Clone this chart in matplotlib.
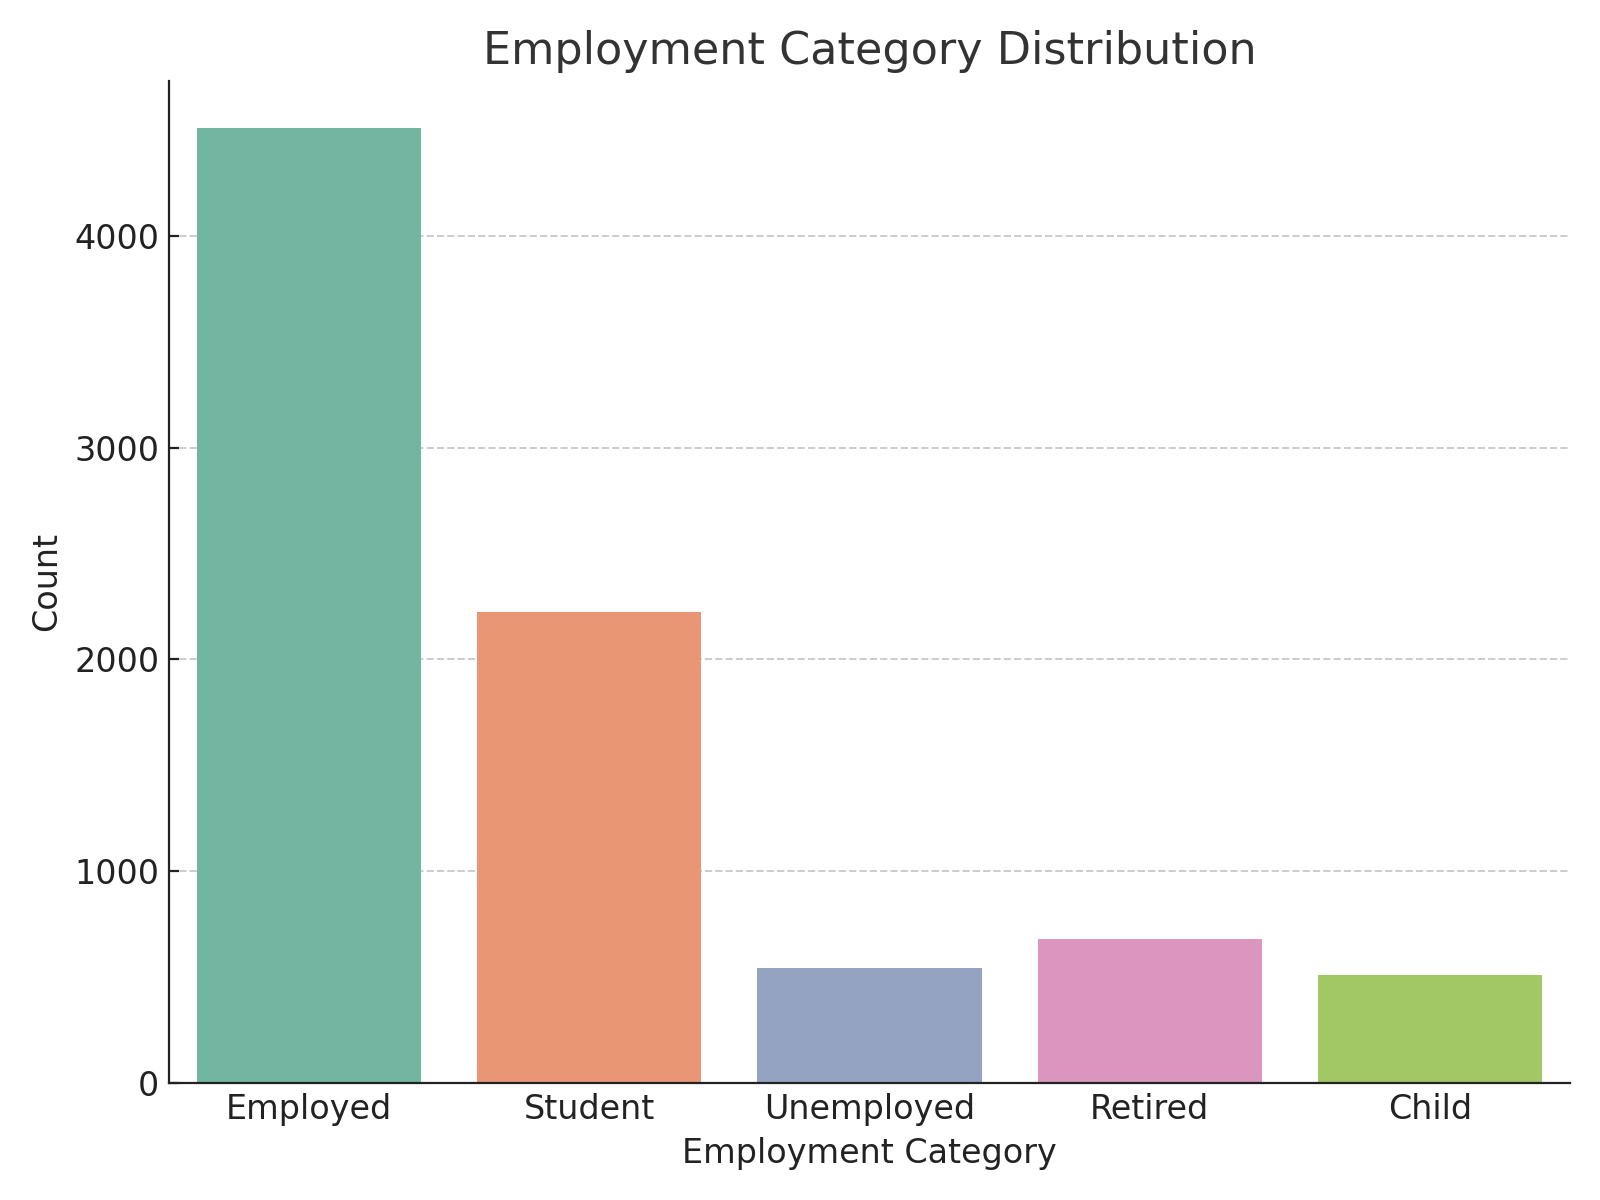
import matplotlib
matplotlib.use("Agg")
import matplotlib.pyplot as plt
import seaborn as sns

categories = ["Employed", "Student", "Unemployed", "Retired", "Child"]
counts = [4506, 2222, 545, 680, 511]

fig, ax = plt.subplots(figsize=(8, 6), dpi=200)
sns.barplot(x=categories, y=counts, hue=categories, palette="Set2", legend=False, ax=ax)

ax.set_title("Employment Category Distribution", fontsize=16, color="#333333")
ax.set_xlabel("Employment Category", fontsize=12, color="#222222")
ax.set_ylabel("Count", fontsize=12, color="#222222")
ax.tick_params(labelsize=12, direction="in", colors="#222222")
ax.yaxis.grid(True, linestyle="--", color="#cccccc", linewidth=0.7)
ax.set_axisbelow(True)
ax.spines["top"].set_visible(False)
ax.spines["right"].set_visible(False)
ax.spines["left"].set_color("#222222")
ax.spines["bottom"].set_color("#222222")

plt.tight_layout()
plt.savefig("out.png")
